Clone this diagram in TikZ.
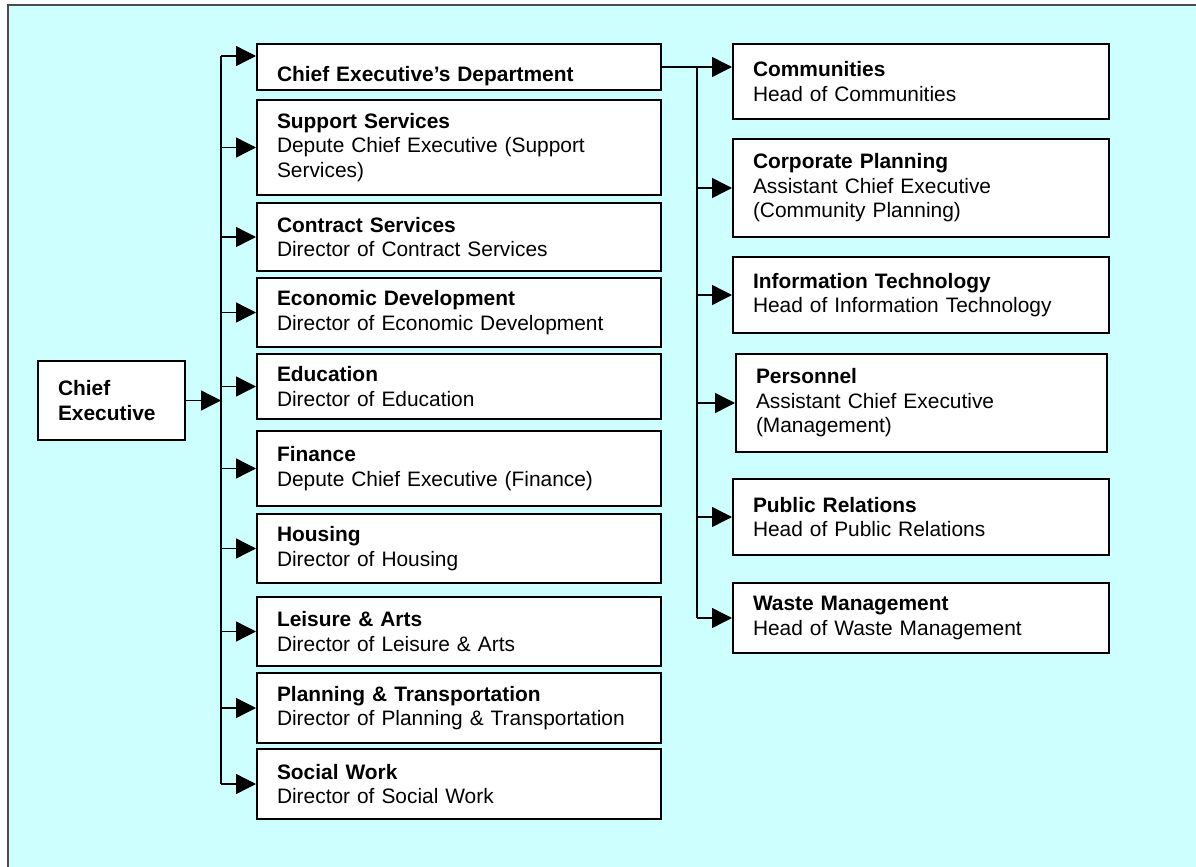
\documentclass[tikz,border=0pt]{standalone}
\usepackage{fontspec}
\setmainfont{Liberation Sans}
\usetikzlibrary{arrows.meta,calc}

\definecolor{panel}{RGB}{206,255,255}

\tikzset{
    unit/.style={draw, rectangle, fill=white, line width=1pt, anchor=north west,
        inner xsep=10pt, inner ysep=3pt, align=left,
        font=\fontsize{10.45pt}{12.25pt}\selectfont},
    leftunit/.style={unit, text width=182pt},
    rightunit/.style={unit, text width=168pt},
    link/.style={line width=0.7pt, -{Triangle[length=10pt,width=10pt]}},
    trunk/.style={line width=0.7pt}
}

\begin{document}
\begin{tikzpicture}[x=0.5pt, y=-0.5pt]
    \useasboundingbox (0,0) rectangle (1196,867);
    % background panel
    \fill[panel] (8,5) rectangle (1196,867);
    \draw[black!70, line width=0.6pt] (8,867) -- (8,5) -- (1196,5);

    \node (chief) [unit, text width=53.5pt, minimum height=39.5pt] at (37,360) {\textbf{Chief}\\\textbf{Executive}};

    % departments
    \node (ced) [leftunit, minimum height=23pt, text height=16pt, text depth=1pt] at (256,43) {\textbf{Chief Executive’s Department}};
    \node (support) [leftunit, minimum height=47.5pt] at (256,99) {\textbf{Support Services}\\Depute Chief Executive (Support\\Services)};
    \node (contract) [leftunit, minimum height=34pt] at (256,202) {\textbf{Contract Services}\\Director of Contract Services};
    \node (econ) [leftunit, minimum height=34.5pt] at (256,277) {\textbf{Economic Development}\\Director of Economic Development};
    \node (edu) [leftunit, minimum height=32.5pt] at (256,353) {\textbf{Education}\\Director of Education};
    \node (finance) [leftunit, minimum height=37.5pt] at (256,430) {\textbf{Finance}\\Depute Chief Executive (Finance)};
    \node (housing) [leftunit, minimum height=34.5pt] at (256,513) {\textbf{Housing}\\Director of Housing};
    \node (leisure) [leftunit, minimum height=34.5pt] at (256,596) {\textbf{Leisure \& Arts}\\Director of Leisure \& Arts};
    \node (planning) [leftunit, minimum height=35pt] at (256,672) {\textbf{Planning \& Transportation}\\Director of Planning \& Transportation};
    \node (social) [leftunit, minimum height=35pt] at (256,748) {\textbf{Social Work}\\Director of Social Work};

    % chief executive's department sections
    \node (comm) [rightunit, minimum height=37.5pt] at (732,43) {\textbf{Communities}\\Head of Communities};
    \node (corp) [rightunit, minimum height=49pt] at (732,138) {\textbf{Corporate Planning}\\Assistant Chief Executive\\(Community Planning)};
    \node (it) [rightunit, minimum height=38pt] at (732,256) {\textbf{Information Technology}\\Head of Information Technology};
    \node (personnel) [rightunit, text width=165.5pt, minimum height=49pt] at (735,353) {\textbf{Personnel}\\Assistant Chief Executive\\(Management)};
    \node (pr) [rightunit, minimum height=38pt] at (732,478) {\textbf{Public Relations}\\Head of Public Relations};
    \node (waste) [rightunit, minimum height=35pt] at (732,582) {\textbf{Waste Management}\\Head of Waste Management};

    \coordinate (ltop) at (221,56);
    \coordinate (rtop) at ($(ced.east)!0.5!(ced.east -| comm.west)$);

    \draw[link] (chief.east) -- (chief.east -| ltop);
    \draw[trunk] (ltop) -- (ltop |- social.west);
    \draw[link] (ltop) -- (ltop -| ced.west);
    \draw[link] (ltop |- support.west) -- (support.west);
    \draw[link] (ltop |- contract.west) -- (contract.west);
    \draw[link] (ltop |- econ.west) -- (econ.west);
    \draw[link] (ltop |- edu.west) -- (edu.west);
    \draw[link] (ltop |- finance.west) -- (finance.west);
    \draw[link] (ltop |- housing.west) -- (housing.west);
    \draw[link] (ltop |- leisure.west) -- (leisure.west);
    \draw[link] (ltop |- planning.west) -- (planning.west);
    \draw[link] (ltop |- social.west) -- (social.west);

    \draw[link] (ced.east) -- (ced.east -| comm.west);
    \draw[trunk] (rtop) -- (rtop |- waste.west);
    \draw[link] (rtop |- corp.west) -- (corp.west);
    \draw[link] (rtop |- it.west) -- (it.west);
    \draw[link] (rtop |- personnel.west) -- (personnel.west);
    \draw[link] (rtop |- pr.west) -- (pr.west);
    \draw[link] (rtop |- waste.west) -- (waste.west);
\end{tikzpicture}
\end{document}
